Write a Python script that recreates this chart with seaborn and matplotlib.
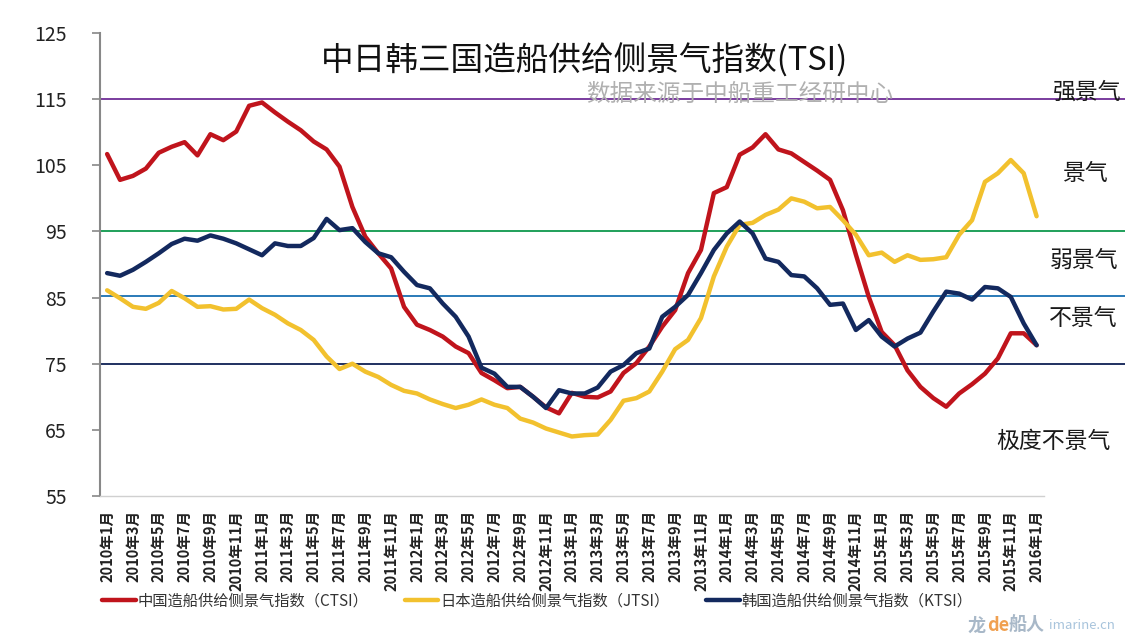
import numpy as np
import pandas as pd
import matplotlib
matplotlib.use("Agg")
import matplotlib.pyplot as plt
import seaborn as sns

# monthly categories 2010-01 .. 2016-01
months = [f"{2010 + k // 12}年{k % 12 + 1}月" for k in range(73)]

ctsi = [106.7, 102.8, 103.4, 104.5, 106.9, 107.8, 108.5, 106.5, 109.7, 108.8, 110.1, 114.0,
        114.5, 113.0, 111.6, 110.3, 108.6, 107.4, 104.8, 98.7, 94.2, 91.7, 89.4, 83.6,
        80.9, 80.1, 79.1, 77.6, 76.6, 73.6, 72.5, 71.3, 71.5, 70.0, 68.4, 67.5,
        70.6, 70.0, 69.9, 70.8, 73.6, 75.1, 77.6, 80.6, 83.1, 88.7, 92.2, 100.8,
        101.7, 106.6, 107.7, 109.7, 107.4, 106.8, 105.5, 104.2, 102.8, 98.2, 91.5, 85.1,
        79.8, 77.8, 74.0, 71.5, 69.8, 68.5, 70.5, 71.9, 73.5, 75.8, 79.6, 79.6,
        77.8]

jtsi = [86.1, 84.9, 83.6, 83.3, 84.2, 86.0, 84.9, 83.6, 83.7, 83.2, 83.3, 84.7,
        83.4, 82.4, 81.1, 80.1, 78.6, 76.1, 74.2, 75.0, 73.8, 73.0, 71.8, 70.9,
        70.5, 69.6, 68.9, 68.3, 68.8, 69.6, 68.8, 68.3, 66.7, 66.1, 65.2, 64.6,
        64.0, 64.2, 64.3, 66.5, 69.4, 69.8, 70.8, 73.8, 77.2, 78.6, 81.9, 88.2,
        92.7, 96.0, 96.3, 97.5, 98.3, 100.0, 99.5, 98.5, 98.7, 96.7, 94.5, 91.4,
        91.8, 90.4, 91.4, 90.7, 90.8, 91.1, 94.5, 96.7, 102.5, 103.8, 105.8, 103.8,
        97.3]

ktsi = [88.7, 88.3, 89.2, 90.4, 91.7, 93.1, 93.9, 93.6, 94.4, 93.9, 93.2, 92.3,
        91.4, 93.2, 92.8, 92.8, 94.0, 96.9, 95.2, 95.5, 93.4, 91.7, 91.1, 88.9,
        86.9, 86.4, 84.1, 82.1, 79.1, 74.4, 73.5, 71.5, 71.5, 70.0, 68.3, 71.0,
        70.5, 70.5, 71.4, 73.8, 74.8, 76.6, 77.3, 82.1, 83.6, 85.4, 88.7, 92.2,
        94.7, 96.5, 94.7, 90.9, 90.4, 88.4, 88.2, 86.4, 83.9, 84.1, 80.1, 81.6,
        79.1, 77.6, 78.8, 79.7, 82.9, 85.9, 85.6, 84.7, 86.6, 86.4, 85.1, 81.1,
        77.8]

series_names = ["中国造船供给侧景气指数（CTSI）",
                "日本造船供给侧景气指数（JTSI）",
                "韩国造船供给侧景气指数（KTSI）"]
series_colors = ["#C0141C", "#F2C12E", "#13295E"]

levels = [115, 95, 85.3, 75]
level_colors = ["#7A3C9E", "#1FA05A", "#2A7AB8", "#1F3060"]
zone_labels = ["强景气", "景气", "弱景气", "不景气", "极度不景气"]
zone_y = [116.0, 103.7, 90.7, 81.8, 63.3]
zone_x = [78.6, 77.5, 78.3, 78.3, 77.7]

sns.set_style("white")
plt.rcParams['font.family'] = ['Noto Sans CJK SC', 'DejaVu Sans']

df = pd.DataFrame({
    "idx": np.tile(np.arange(len(months)), 3),
    "value": ctsi + jtsi + ktsi,
    "series": np.repeat(series_names, len(months)),
})

fig = plt.figure(figsize=(11.38, 6.4), dpi=100)
ax = fig.add_axes([0.0879, 0.225, 0.9007, 0.7234])

for y, c in zip(levels, level_colors):
    ax.axhline(y, color=c, lw=1.4, zorder=1)

sns.lineplot(data=df, x="idx", y="value", hue="series", hue_order=series_names,
             palette=series_colors, linewidth=3.2, ax=ax, legend=False, zorder=3)

ax.set_xlim(-0.55, 78.85)
ax.set_ylim(55, 125)
ax.set_yticks(range(55, 126, 10))
ax.set_xlabel("")
ax.set_ylabel("")

ax.set_xticks(range(0, len(months), 2))
ax.set_xticklabels(months[::2], rotation=90, fontsize=10.5, color="#222222",
                   fontweight="bold", va="top", ha="center")
ax.set_xticks(np.arange(1.5, len(months), 2), minor=True)
ax.tick_params(axis="x", which="major", length=0, pad=10)
ax.tick_params(axis="x", which="minor", length=4, color="#C8C8C8", width=1)
ax.tick_params(axis="y", length=6, color="#888888", width=1.2, pad=18,
               labelsize=14, labelcolor="#222222", left=True)

for s in ["top", "right"]:
    ax.spines[s].set_visible(False)
ax.spines["left"].set_color("#888888")
ax.spines["left"].set_linewidth(1.5)
ax.spines["bottom"].set_color("#D0D0D0")
ax.spines["bottom"].set_linewidth(1.0)
ax.spines["bottom"].set_bounds(-0.55, 72.6)

for lab, xx, yy in zip(zone_labels, zone_x, zone_y):
    ax.text(xx, yy, lab, ha="right", va="center", fontsize=16.5, color="#1a1a1a")

fig.text(0.514, 0.906, "中日韩三国造船供给侧景气指数(TSI)", ha="center", va="center",
         fontsize=23.5, color="#111111")
fig.text(0.650, 0.853, "数据来源于中船重工经研中心", ha="center", va="center",
         fontsize=17, color="#B0B0B0")

handles = ax.get_lines()[len(levels):len(levels) + 3]
fig.legend(handles, series_names, loc="center", bbox_to_anchor=(0.472, 0.061),
           ncol=3, frameon=False, fontsize=11, handlelength=2.2, handletextpad=0.1,
           columnspacing=2.4, labelcolor="#333333")

fig.text(0.850, 0.023, "龙", color="#A8B8C8", fontsize=13, fontweight="bold", va="center")
fig.text(0.867, 0.023, "de", color="#F0A050", fontsize=13, fontweight="bold", va="center")
fig.text(0.886, 0.023, "船人", color="#A8B8C8", fontsize=13, fontweight="bold", va="center")
fig.text(0.922, 0.023, "imarine.cn", color="#A8C4DC", fontsize=9.5, style="italic", va="center")

fig.savefig("out.png", dpi=100)
